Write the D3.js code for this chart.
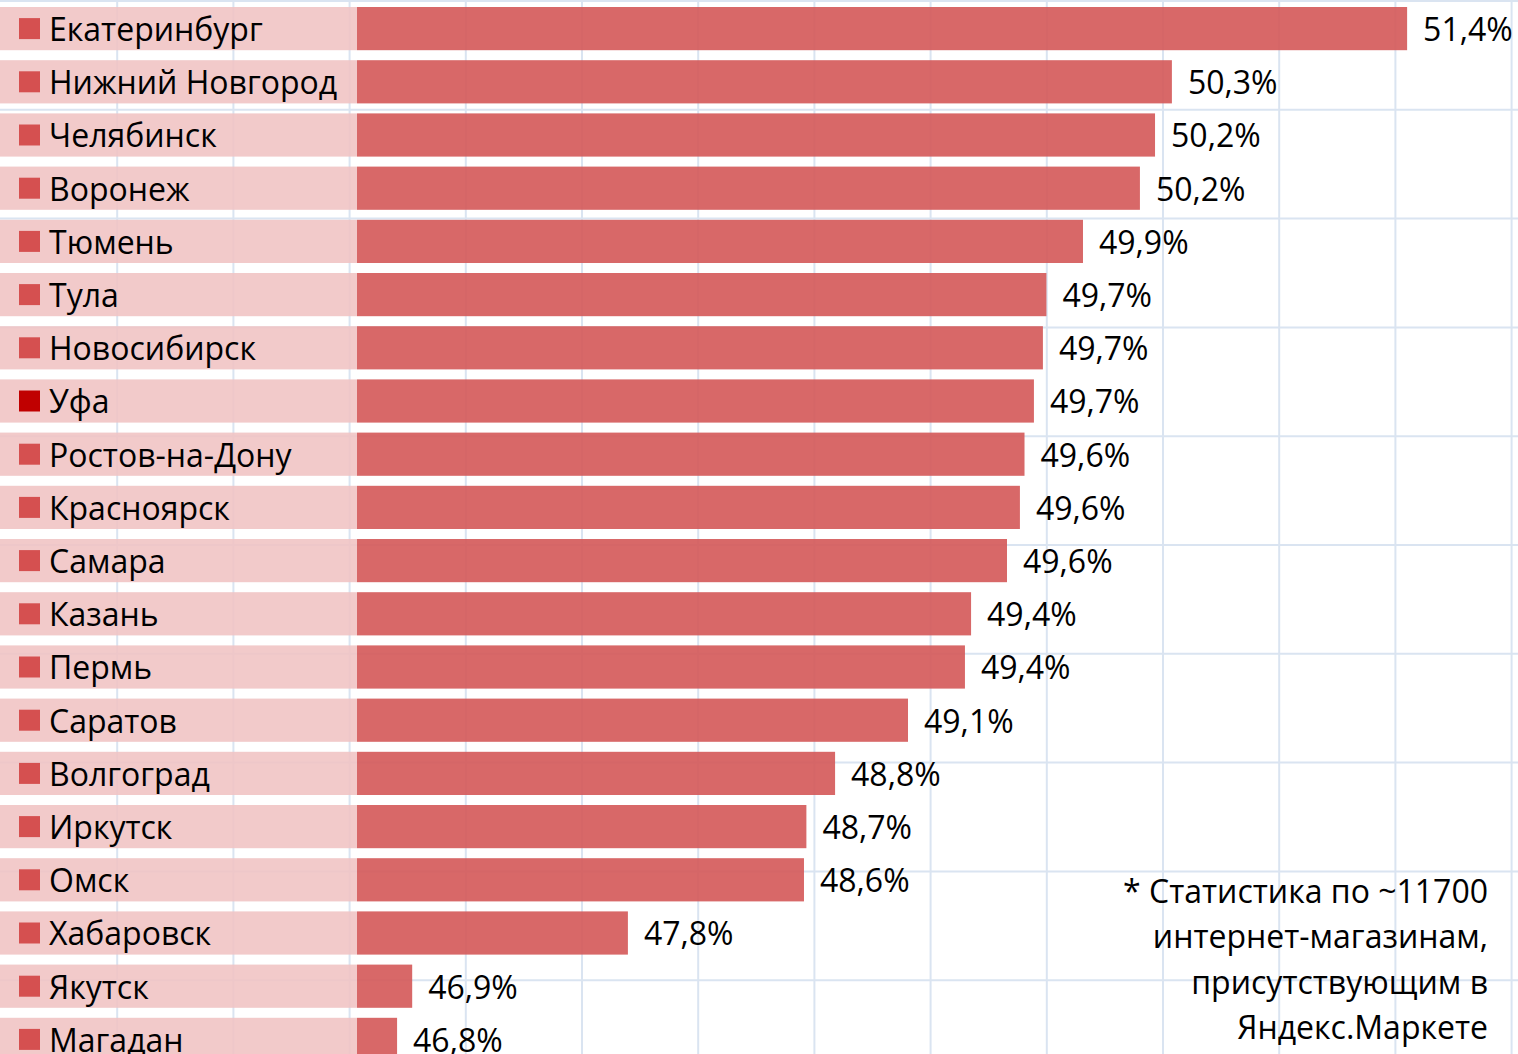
<!DOCTYPE html>
<html>
<head>
<meta charset="utf-8">
<script src="https://cdn.jsdelivr.net/npm/d3@7"></script>
<style>
  body { margin: 0; background: #fff; }
  text { font-family: "Open Sans", "Noto Sans", sans-serif; }
</style>
</head>
<body>
<div id="chart"></div>
<script>

// cities, top to bottom
var cities = ["Екатеринбург", "Нижний Новгород", "Челябинск", "Воронеж", "Тюмень",
  "Тула", "Новосибирск", "Уфа", "Ростов-на-Дону", "Красноярск", "Самара", "Казань",
  "Пермь", "Саратов", "Волгоград", "Иркутск", "Омск", "Хабаровск", "Якутск", "Магадан"];

// share, %
var shares = [51.395, 50.321, 50.244, 50.175, 49.915, 49.748, 49.732, 49.691, 49.648, 49.627,
  49.568, 49.404, 49.376, 49.116, 48.783, 48.652, 48.641, 47.837, 46.852, 46.783];

var highlighted = ["Уфа"];

var footnote = ["* Статистика по ~11700", "интернет-магазинам,", "присутствующим в", "Яндекс.Маркете"];

var W = 1518, H = 1054;
var labelW = 357;
var fs = "32px";

var data = cities.map(function(c, i) { return {city: c, value: shares[i]}; });

var svg = d3.select("#chart").append("svg")
    .attr("width", W)
    .attr("height", H);

// background grid (paper)
var grid = svg.append("g");
grid.selectAll(".gv")
    .data(d3.range(1, 14))
  .enter().append("line")
    .attr("x1", function(k) { return 1 + k * 116.2; })
    .attr("x2", function(k) { return 1 + k * 116.2; })
    .attr("y1", 0).attr("y2", H)
    .style("stroke", "#dae4f1")
    .style("stroke-width", 2);
grid.selectAll(".gh")
    .data(d3.range(0, 10))
  .enter().append("line")
    .attr("x1", 0).attr("x2", W)
    .attr("y1", function(k) { return 1 + k * 108.8; })
    .attr("y2", function(k) { return 1 + k * 108.8; })
    .style("stroke", "#dae4f1")
    .style("stroke-width", 2);

var step = 53.2, pad = 10 / 53.2;
var y = d3.scaleBand()
    .domain(cities)
    .range([7, 7 + step * cities.length])
    .paddingInner(pad)
    .paddingOuter(pad / 2)
    .align(0);

var x = d3.scaleLinear()
    .domain([46.6, 51.5])
    .range([labelW, labelW + 4.9 * 219]);

// label column background
svg.selectAll(".lbg")
    .data(data)
  .enter().append("rect")
    .attr("x", 0)
    .attr("y", function(d) { return y(d.city); })
    .attr("width", labelW)
    .attr("height", y.bandwidth())
    .style("fill", "#f0c3c3")
    .style("opacity", 0.88);

svg.selectAll(".mark")
    .data(data)
  .enter().append("rect")
    .attr("x", 19)
    .attr("y", function(d) { return y(d.city) + y.bandwidth() / 2 - 10.5; })
    .attr("width", 21)
    .attr("height", 21)
    .style("fill", function(d) { return highlighted.indexOf(d.city) >= 0 ? "#c00000" : "#d55050"; });

svg.selectAll(".city")
    .data(data)
  .enter().append("text")
    .attr("x", 49)
    .attr("y", function(d) { return y(d.city) + 34; })
    .style("font-size", fs)
    .style("fill", "#000")
    .text(function(d) { return d.city; });

svg.selectAll(".bar")
    .data(data)
  .enter().append("rect")
    .attr("x", x(46.6))
    .attr("y", function(d) { return y(d.city); })
    .attr("width", function(d) { return x(d.value) - x(46.6); })
    .attr("height", y.bandwidth())
    .style("fill", "#d45858")
    .style("opacity", 0.9);

svg.selectAll(".val")
    .data(data)
  .enter().append("text")
    .attr("x", function(d) { return x(d.value) + 16; })
    .attr("y", function(d) { return y(d.city) + 34; })
    .style("font-size", fs)
    .style("fill", "#000")
    .text(function(d) { return d.value.toFixed(1).replace(".", ",") + "%"; });

svg.selectAll(".note")
    .data(footnote)
  .enter().append("text")
    .attr("x", 1488)
    .attr("y", function(d, i) { return 903 + i * 45.3; })
    .style("text-anchor", "end")
    .style("font-size", fs)
    .style("fill", "#000")
    .text(function(d) { return d; });

</script>
</body>
</html>
